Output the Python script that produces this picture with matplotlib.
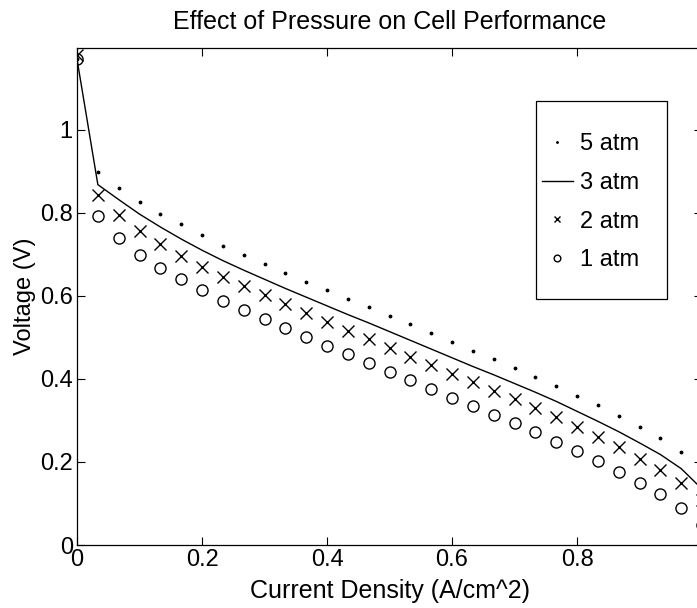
import numpy as np
import matplotlib
matplotlib.use("Agg")
import matplotlib.pyplot as plt
from matplotlib.patches import Rectangle

plt.rcParams['font.family'] = ['Liberation Sans', 'DejaVu Sans']

# current density, A/cm^2 (31 points, step 1/30)
current = np.linspace(0, 1, 31)

v_5atm = [1.17, 0.899, 0.860, 0.826, 0.797, 0.773, 0.747, 0.720, 0.699, 0.677,
          0.655, 0.634, 0.614, 0.593, 0.573, 0.552, 0.533, 0.511, 0.489, 0.467,
          0.448, 0.426, 0.405, 0.383, 0.359, 0.337, 0.311, 0.284, 0.258, 0.224,
          0.170]
v_3atm = [1.17, 0.868, 0.832, 0.797, 0.766, 0.737, 0.710, 0.685, 0.662, 0.640,
          0.618, 0.597, 0.576, 0.555, 0.535, 0.514, 0.493, 0.472, 0.451, 0.430,
          0.410, 0.389, 0.368, 0.346, 0.322, 0.298, 0.273, 0.246, 0.218, 0.184,
          0.135]
v_2atm = [1.18, 0.843, 0.795, 0.757, 0.725, 0.696, 0.670, 0.646, 0.624, 0.602,
          0.581, 0.559, 0.537, 0.516, 0.496, 0.475, 0.453, 0.434, 0.413, 0.393,
          0.371, 0.352, 0.330, 0.308, 0.284, 0.260, 0.236, 0.207, 0.181, 0.149,
          0.108]
v_1atm = [1.17, 0.793, 0.740, 0.699, 0.667, 0.641, 0.614, 0.588, 0.566, 0.545,
          0.523, 0.501, 0.480, 0.460, 0.439, 0.417, 0.398, 0.376, 0.355, 0.335,
          0.313, 0.294, 0.272, 0.248, 0.227, 0.202, 0.176, 0.149, 0.123, 0.089,
          0.048]

xticks = [0, 0.2, 0.4, 0.6, 0.8, 1]
yticks = [0, 0.2, 0.4, 0.6, 0.8, 1]

fig = plt.figure(figsize=(6.97, 6.08), dpi=100)
ax = fig.add_axes([0.1105, 0.1036, 0.8967, 0.8174])

ax.plot(current, v_5atm, '.', color='black', markersize=3.5, label='5 atm')
ax.plot(current, v_3atm, '-', color='black', linewidth=1.0, label='3 atm')
ax.plot(current, v_2atm, 'x', color='black', markersize=8, markeredgewidth=1.0, label='2 atm')
ax.plot(current, v_1atm, 'o', color='black', markersize=8, markerfacecolor='none',
        markeredgewidth=1.0, label='1 atm')

ax.set_xlim(0, 1)
ax.set_ylim(0, 1.197)
ax.set_xticks(xticks)
ax.set_xticklabels(['0', '0.2', '0.4', '0.6', '0.8', '1'])
ax.set_yticks(yticks)
ax.set_yticklabels(['0', '0.2', '0.4', '0.6', '0.8', '1'])
ax.tick_params(direction='in', top=True, right=True, length=6, width=0.8,
               labelsize=17, pad=3)
for s in ax.spines.values():
    s.set_linewidth(0.9)

ax.set_title('Effect of Pressure on Cell Performance', fontsize=18, pad=14)
ax.set_xlabel('Current Density (A/cm^2)', fontsize=18)
ax.xaxis.set_label_coords(0.5, -0.068)
ax.set_ylabel('Voltage (V)', fontsize=17)
ax.yaxis.set_label_coords(-0.066, 0.5)

leg = ax.legend(loc='upper left', bbox_to_anchor=(542 / 697, 1 - 133 / 608),
                bbox_transform=fig.transFigure, frameon=False, fontsize=17,
                handlelength=1.3, handletextpad=0.3, labelspacing=0.71,
                borderpad=0, borderaxespad=0, markerscale=0.6)
fig.add_artist(Rectangle((536 / 697, 1 - 299 / 608), 131 / 697, 198 / 608,
                         transform=fig.transFigure, fill=False,
                         edgecolor='black', linewidth=0.9))

fig.savefig('out.png', dpi=100)
